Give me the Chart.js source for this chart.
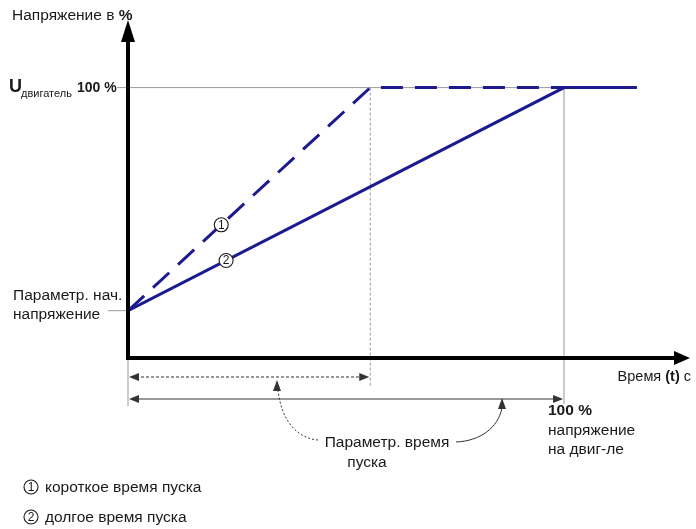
<!DOCTYPE html>
<html>
<head>
<meta charset="utf-8">
<script src="https://cdn.jsdelivr.net/npm/chart.js@4/dist/chart.umd.min.js"></script>
<style>
  html, body { margin: 0; padding: 0; background: #fff; }
  #wrap { position: relative; width: 696px; height: 529px; }
</style>
</head>
<body>
<div id="wrap"><canvas id="startChart" width="696" height="529"></canvas></div>
<script>
// data: time (arbitrary units) vs voltage in %
const timeShort = [0, 10, 21]
const voltShort = [17.5, 100, 100]
const timeLong = [0, 18, 21]
const voltLong = [17.5, 100, 100]
const axisMaxTime = 23.2
const axisMaxVolt = 125
// where the circled numbers sit on each line (time value)
const markerTime = [3.85, 4.05]

const lineColor = '#1c1a8e'
const grey = '#9a9a9a'
const ink = '#1a1a1a'
const FONT = '"Liberation Sans", Arial, sans-serif'
const TXT = '15.5px ' + FONT
const BOLD = 'bold 15.5px ' + FONT

function valueAt(xs, ys, t) {
    for (let i = 1; i < xs.length; i++) {
        if (t <= xs[i]) {
            const f = (t - xs[i - 1]) / (xs[i] - xs[i - 1])
            return ys[i - 1] + f * (ys[i] - ys[i - 1])
        }
    }
    return ys[ys.length - 1]
}

function arrowHead(ctx, x, y, dir, len, half) {
    // dir: 'up', 'left', 'right'
    ctx.beginPath()
    if (dir === 'up') {
        ctx.moveTo(x, y); ctx.lineTo(x - half, y + len); ctx.lineTo(x + half, y + len)
    } else if (dir === 'left') {
        ctx.moveTo(x, y); ctx.lineTo(x + len, y - half); ctx.lineTo(x + len, y + half)
    } else {
        ctx.moveTo(x, y); ctx.lineTo(x - len, y - half); ctx.lineTo(x - len, y + half)
    }
    ctx.closePath()
    ctx.fill()
}

function circledNum(ctx, x, y, n) {
    ctx.save()
    ctx.beginPath()
    ctx.arc(x, y, 7, 0, Math.PI * 2)
    ctx.fillStyle = '#fff'
    ctx.fill()
    ctx.lineWidth = 1.1
    ctx.strokeStyle = ink
    ctx.stroke()
    ctx.fillStyle = ink
    ctx.font = '12px ' + FONT
    ctx.textAlign = 'center'
    ctx.textBaseline = 'middle'
    ctx.fillText(n, x, y + 0.5)
    ctx.restore()
}

const guides = {
    id: 'guides',
    beforeDatasetsDraw(chart) {
        const ctx = chart.ctx
        const xs = chart.scales.x, ys = chart.scales.y
        const x0 = xs.getPixelForValue(0)
        const y0 = ys.getPixelForValue(0)
        const yTop = ys.getPixelForValue(100)
        const yStart = ys.getPixelForValue(voltShort[0])
        const xShort = xs.getPixelForValue(timeShort[1])
        const xLong = xs.getPixelForValue(timeLong[1])
        ctx.save()
        ctx.strokeStyle = grey
        ctx.lineWidth = 1
        // 100 % reference line
        ctx.beginPath(); ctx.moveTo(117, yTop); ctx.lineTo(xLong, yTop); ctx.stroke()
        // start voltage leader
        ctx.beginPath(); ctx.moveTo(108, yStart); ctx.lineTo(x0, yStart); ctx.stroke()
        // long ramp end
        ctx.beginPath(); ctx.moveTo(xLong, yTop); ctx.lineTo(xLong, 404); ctx.stroke()
        // origin drop line
        ctx.beginPath(); ctx.moveTo(x0, y0); ctx.lineTo(x0, 406); ctx.stroke()
        // short ramp end (dashed)
        ctx.setLineDash([3, 2])
        ctx.beginPath(); ctx.moveTo(xShort, yTop); ctx.lineTo(xShort, 386); ctx.stroke()
        ctx.restore()
    },
    afterDraw(chart) {
        const ctx = chart.ctx
        const xs = chart.scales.x, ys = chart.scales.y
        const x0 = xs.getPixelForValue(0)
        const y0 = ys.getPixelForValue(0)
        const xShort = xs.getPixelForValue(timeShort[1])
        const xLong = xs.getPixelForValue(timeLong[1])
        ctx.save()

        // axes with arrows
        ctx.strokeStyle = '#000'
        ctx.fillStyle = '#000'
        ctx.lineWidth = 4
        ctx.beginPath(); ctx.moveTo(x0, y0 + 2); ctx.lineTo(x0, 40); ctx.stroke()
        ctx.beginPath(); ctx.moveTo(x0 - 2, y0); ctx.lineTo(676, y0); ctx.stroke()
        arrowHead(ctx, x0, 20, 'up', 22, 7)
        arrowHead(ctx, 690, y0, 'right', 16, 7)

        // time span arrows
        ctx.strokeStyle = '#333'
        ctx.fillStyle = '#333'
        ctx.lineWidth = 1
        const yA = 377, yB = 399
        ctx.setLineDash([3, 2])
        ctx.beginPath(); ctx.moveTo(x0 + 8, yA); ctx.lineTo(xShort - 8, yA); ctx.stroke()
        ctx.setLineDash([])
        arrowHead(ctx, x0 + 1, yA, 'left', 10, 4)
        arrowHead(ctx, xShort - 1, yA, 'right', 10, 4)
        ctx.beginPath(); ctx.moveTo(x0 + 8, yB); ctx.lineTo(xLong - 8, yB); ctx.stroke()
        arrowHead(ctx, x0 + 1, yB, 'left', 10, 4)
        arrowHead(ctx, xLong - 1, yB, 'right', 10, 4)

        // curved pointers from the label
        ctx.setLineDash([2, 2])
        ctx.beginPath(); ctx.moveTo(318, 440)
        ctx.bezierCurveTo(295, 438, 281, 418, 278, 390); ctx.stroke()
        ctx.setLineDash([])
        arrowHead(ctx, 277, 380, 'up', 11, 4)
        ctx.beginPath(); ctx.moveTo(456, 442)
        ctx.bezierCurveTo(480, 441, 498, 428, 502, 408); ctx.stroke()
        arrowHead(ctx, 502, 398, 'up', 11, 4)

        // circled markers on the lines
        circledNum(ctx, xs.getPixelForValue(markerTime[0]),
            ys.getPixelForValue(valueAt(timeShort, voltShort, markerTime[0])), '1')
        circledNum(ctx, xs.getPixelForValue(markerTime[1]),
            ys.getPixelForValue(valueAt(timeLong, voltLong, markerTime[1])), '2')

        // texts
        ctx.fillStyle = ink
        ctx.textBaseline = 'alphabetic'
        ctx.textAlign = 'left'
        ctx.font = TXT
        ctx.fillText('Напряжение в ', 12, 20)
        let w = ctx.measureText('Напряжение в ').width
        ctx.font = BOLD
        ctx.fillText('%', 12 + w, 20)

        ctx.font = 'bold 18px ' + FONT
        ctx.fillText('U', 9, 92)
        ctx.font = '11px ' + FONT
        ctx.fillText('двигатель', 21, 97)
        ctx.font = 'bold 14px ' + FONT
        ctx.fillText('100 %', 77, 92)

        ctx.font = TXT
        ctx.fillText('Параметр. нач.', 13, 300)
        ctx.fillText('напряжение', 13, 319)

        // x axis title
        ctx.textAlign = 'right'
        const t1 = ' с', t2 = '(t)', t3 = 'Время '
        let xr = 691
        ctx.font = '14.5px ' + FONT
        ctx.fillText(t1, xr, 381); xr -= ctx.measureText(t1).width
        ctx.font = 'bold 14.5px ' + FONT
        ctx.fillText(t2, xr, 381); xr -= ctx.measureText(t2).width
        ctx.font = '14.5px ' + FONT
        ctx.fillText(t3, xr, 381)

        ctx.textAlign = 'left'
        ctx.font = BOLD
        ctx.fillText('100 %', 548, 415)
        ctx.font = TXT
        ctx.fillText('напряжение', 548, 435)
        ctx.fillText('на двиг-ле', 548, 454)

        ctx.textAlign = 'center'
        ctx.fillText('Параметр. время', 387, 447)
        ctx.fillText('пуска', 367, 467)

        // legend
        ctx.textAlign = 'left'
        circledNum(ctx, 31, 487, '1')
        circledNum(ctx, 31, 517, '2')
        ctx.fillStyle = ink
        ctx.font = TXT
        ctx.fillText('короткое время пуска', 45, 492)
        ctx.fillText('долгое время пуска', 45, 522)

        ctx.restore()
    }
}

const ctx = document.getElementById('startChart').getContext('2d')
new Chart(ctx, {
    type: 'line',
    data: {
        datasets: [
            {
                label: 'короткое время пуска',
                data: timeShort.map((t, i) => ({ x: t, y: voltShort[i] })),
                borderColor: lineColor,
                borderWidth: 3,
                borderDash: [22, 12],
                pointRadius: 0,
                fill: false,
                tension: 0
            },
            {
                label: 'долгое время пуска',
                data: timeLong.map((t, i) => ({ x: t, y: voltLong[i] })),
                borderColor: lineColor,
                borderWidth: 3,
                pointRadius: 0,
                fill: false,
                tension: 0
            }
        ]
    },
    options: {
        responsive: false,
        animation: false,
        layout: { padding: { left: 128, right: 6, top: 20, bottom: 171 } },
        scales: {
            x: { type: 'linear', min: 0, max: axisMaxTime, display: false },
            y: { min: 0, max: axisMaxVolt, display: false }
        },
        plugins: {
            legend: { display: false },
            tooltip: { enabled: false }
        }
    },
    plugins: [guides]
})
</script>
</body>
</html>
